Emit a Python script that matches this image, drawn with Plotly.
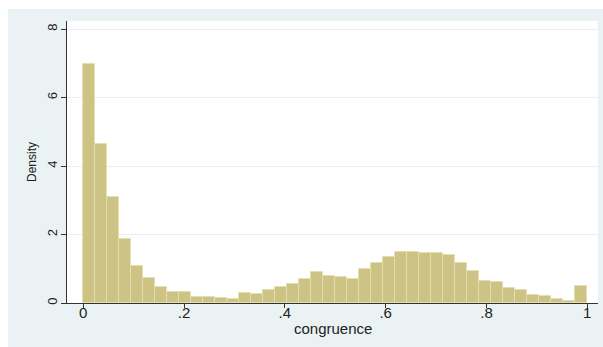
import plotly.graph_objects as go

# Histogram of congruence: 42 equal-width bins on [0, 1], heights are densities
bin_start = 0.0
bin_width = 1 / 42
density = [
    6.99, 4.64, 3.10, 1.88, 1.07, 0.73, 0.47, 0.31, 0.33, 0.18,
    0.17, 0.16, 0.12, 0.28, 0.26, 0.39, 0.47, 0.56, 0.71, 0.90,
    0.80, 0.77, 0.71, 1.00, 1.16, 1.33, 1.49, 1.50, 1.45, 1.46,
    1.40, 1.16, 0.93, 0.64, 0.60, 0.43, 0.38, 0.24, 0.19, 0.125,
    0.07, 0.51,
]
bin_centers = [bin_start + (i + 0.5) * bin_width for i in range(len(density))]

x_tickvals = [0, 0.2, 0.4, 0.6, 0.8, 1]
x_ticktext = ["0", ".2", ".4", ".6", ".8", "1"]
y_tickvals = [0, 2, 4, 6, 8]
y_ticktext = ["0", "2", "4", "6", "8"]

BG = "#eaf2f3"
AXIS = "#333333"
FONT = "Liberation Sans, Arial, sans-serif"

fig = go.Figure(
    go.Bar(
        x=bin_centers,
        y=density,
        width=[bin_width] * len(density),
        marker=dict(color="#ccc385", line=dict(color="#e4dfb0", width=1)),
        hoverinfo="x+y",
    )
)

W, H = 603, 347
ml, mr, mt, mb = 67, 5, 21, 44
pw, ph = W - ml - mr, H - mt - mb

fig.update_layout(
    width=W,
    height=H,
    margin=dict(l=ml, r=mr, t=mt, b=mb, pad=0),
    paper_bgcolor=BG,
    plot_bgcolor="white",
    bargap=0,
    showlegend=False,
    font=dict(family=FONT, color="#222"),
    xaxis=dict(
        range=[-0.0323, 1.0213],
        tickvals=x_tickvals,
        ticktext=x_ticktext,
        ticks="outside",
        ticklen=4,
        tickcolor=AXIS,
        tickwidth=1,
        showline=True,
        linecolor=AXIS,
        linewidth=1.2,
        showgrid=False,
        zeroline=False,
        tickfont=dict(size=15, family=FONT),
        ticklabelstandoff=-8,
    ),
    yaxis=dict(
        range=[0, 8.234],
        tickvals=y_tickvals,
        ticktext=y_ticktext,
        ticks="outside",
        ticklen=5,
        tickcolor=AXIS,
        tickwidth=1,
        tickangle=-90,
        showline=True,
        linecolor=AXIS,
        linewidth=1.2,
        showgrid=True,
        gridcolor="#e6eef0",
        gridwidth=1,
        zeroline=False,
        tickfont=dict(size=13, family=FONT),
        ticklabelstandoff=-1,
    ),
    shapes=[
        # white page border outside the grey graph region
        dict(type="rect", xref="paper", yref="paper",
             x0=-0.3, x1=1.3, y0=(H - mb - 9) / ph, y1=1.3,
             fillcolor="white", line=dict(width=0), layer="below"),
        dict(type="rect", xref="paper", yref="paper",
             x0=-0.3, x1=(8 - ml) / pw, y0=-0.3, y1=1.3,
             fillcolor="white", line=dict(width=0), layer="below"),
    ],
    annotations=[
        dict(text="congruence", xref="paper", yref="paper",
             x=(333 - ml) / pw, y=(H - mb - 328) / ph,
             xanchor="center", yanchor="middle", showarrow=False,
             font=dict(size=15, family=FONT)),
        dict(text="Density", xref="paper", yref="paper",
             x=(32 - ml) / pw, y=0.5, textangle=-90,
             xanchor="center", yanchor="middle", showarrow=False,
             font=dict(size=12, family=FONT)),
    ],
)

fig.write_html("out.html")
